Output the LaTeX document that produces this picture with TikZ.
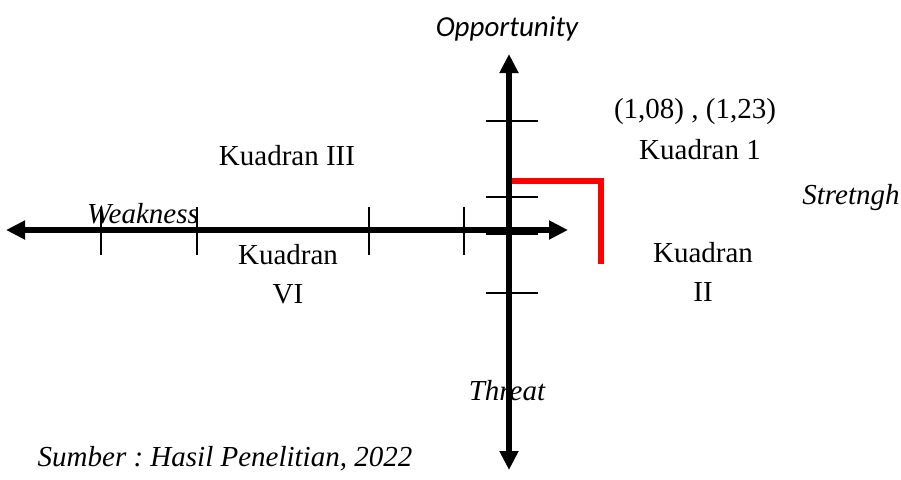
\documentclass[tikz,border=0pt]{standalone}
\usepackage{fontspec}
\setmainfont{Liberation Serif}
\newfontfamily\calibri{Carlito}
\usetikzlibrary{arrows.meta}
\begin{document}
\frenchspacing
\begin{tikzpicture}[x=1pt,y=-1pt,
  axis/.style={line width=5.5pt,-{Triangle[length=19pt,width=18pt]}},
  tick/.style={line width=1.6pt},
  redline/.style={draw=red,line width=6.5pt,line cap=butt,line join=miter},
  lbl/.style={inner sep=0pt,font=\fontsize{29}{34}\selectfont},
  ilbl/.style={inner sep=0pt,font=\fontsize{29}{34}\selectfont\itshape}]
\useasboundingbox (0,0) rectangle (901,479);
% axes
\coordinate (o) at (509,230);
\coordinate (wl) at (6,230);
\coordinate (er) at (568,230);
\coordinate (nt) at (509,54);
\coordinate (sb) at (509,470);
\draw[axis] (o) -- (wl);
\draw[axis] (o) -- (er);
\draw[axis] (o) -- (nt);
\draw[axis] (o) -- (sb);
% ticks on horizontal axis
\foreach \x/\n in {101/a,197/b,369/c,464/d}{
  \coordinate (h\n1) at (\x,207);
  \coordinate (h\n2) at (\x,255);
  \draw[tick] (h\n1) -- (h\n2);
}
% ticks on vertical axis
\foreach \y/\n in {121/a,197/b,234/c,293/d}{
  \coordinate (v\n1) at (486,\y);
  \coordinate (v\n2) at (538,\y);
  \draw[tick] (v\n1) -- (v\n2);
}
% red line
\coordinate (r1) at (512,181);
\coordinate (r2) at (601,181);
\coordinate (r3) at (601,264);
\draw[redline] (r1) -- (r2) -- (r3);
% labels
\node[inner sep=0pt,font=\fontsize{29}{34}\selectfont\calibri\itshape] (opp) at (507,29) {Opportunity};
\node[lbl] (coord) at (695,112) {(1,08) , (1,23)};
\node[lbl] (k1) at (700,150) {Kuadran 1};
\node[ilbl] (str) at (851,198) {Stretngh};
\node[lbl] (k2a) at (703,253) {Kuadran};
\node[lbl] (k2b) at (703,292) {II};
\node[lbl] (k3) at (287,156) {Kuadran III};
\node[ilbl] (weak) at (143,214) {Weakness};
\node[lbl] (k4a) at (288,255) {Kuadran};
\node[lbl] (k4b) at (288,294) {VI};
\node[ilbl] (thr) at (507,391) {Threat};
\node[ilbl] (src) at (225,459) {Sumber : Hasil Penelitian, 2022};
\end{tikzpicture}
\end{document}
